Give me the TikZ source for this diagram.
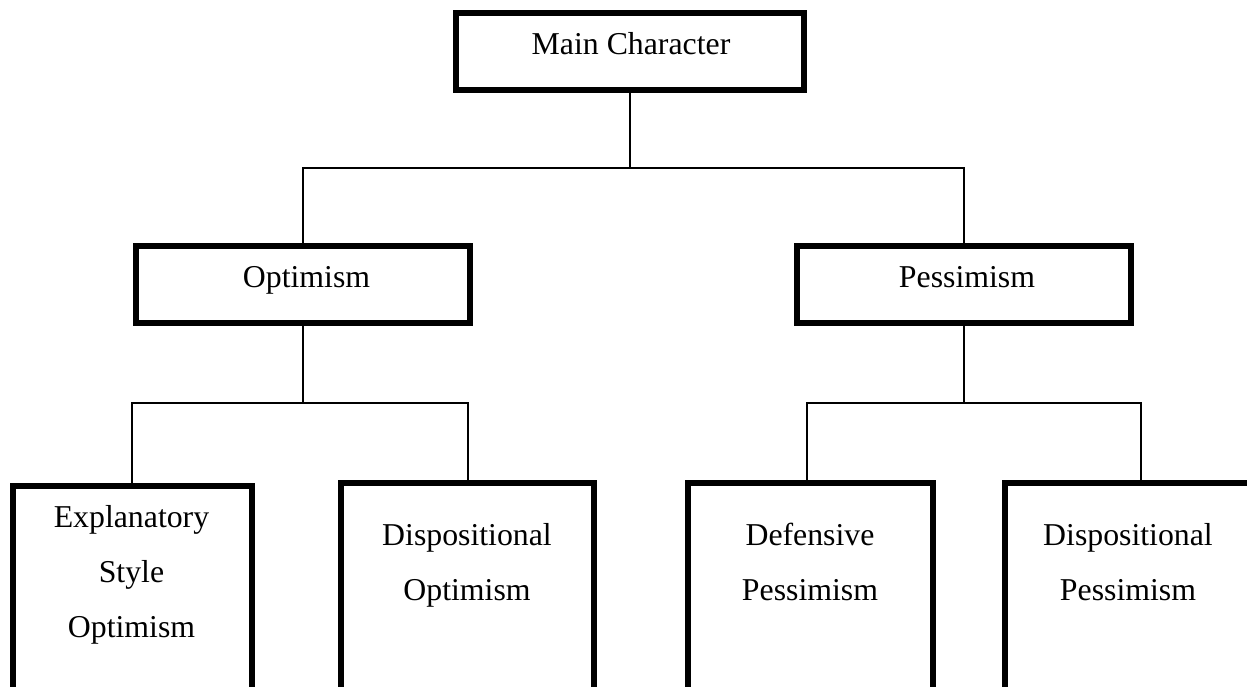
\documentclass[tikz,border=0pt]{standalone}
\usepackage{fontspec}
\setmainfont{Liberation Serif}
\usetikzlibrary{calc}
\begin{document}
\begin{tikzpicture}[x=1pt,y=-1pt,
  box/.style={draw=black,line width=6pt,inner sep=0pt,outer sep=0pt,fill=white},
  lbl/.style={anchor=base,inner sep=0pt,font=\fontsize{31.8}{38}\selectfont},
  conn/.style={draw=black,line width=1.5pt}]
\useasboundingbox (0,0) rectangle (1247,686);
\clip (0,0) rectangle (1247,686);
% boxes (path-centred dimensions)
\node[box,minimum width=348pt,minimum height=77pt] (top) at (630,51.5) {};
\node[box,minimum width=334pt,minimum height=77pt] (opt) at (303,284.5) {};
\node[box,minimum width=334pt,minimum height=77pt] (pes) at (964,284.5) {};
\node[box,minimum width=239pt,minimum height=240pt] (b1) at (132.5,606) {};
\node[box,minimum width=253pt,minimum height=240pt] (b2) at (467.5,603) {};
\node[box,minimum width=245pt,minimum height=240pt] (b3) at (810.5,603) {};
\node[box,minimum width=250pt,minimum height=240pt] (b4) at (1130,603) {};
% labels
\node[lbl] (tTop) at (631,54) {Main Character};
\node[lbl] (tOpt) at (306.5,287) {Optimism};
\node[lbl] (tPes) at (967,287) {Pessimism};
\node[lbl] (t1a) at (131.5,527) {Explanatory};
\node[lbl] (t1b) at (131.5,582) {Style};
\node[lbl] (t1c) at (131.5,637) {Optimism};
\node[lbl] (t2a) at (467,545) {Dispositional};
\node[lbl] (t2b) at (467,600) {Optimism};
\node[lbl] (t3a) at (810,545) {Defensive};
\node[lbl] (t3b) at (810,600) {Pessimism};
\node[lbl] (t4a) at (1128,545) {Dispositional};
\node[lbl] (t4b) at (1128,600) {Pessimism};
% junction coordinates
\coordinate (j0) at (630,168);
\coordinate (jo) at (303,403);
\coordinate (jp) at (964,403);
\coordinate (x1) at (132,403);
\coordinate (x2) at (468,403);
\coordinate (x3) at (807,403);
\coordinate (x4) at (1141,403);
% connectors
\begin{scope}[on background layer/.try]
\draw[conn] (top.south) -- (j0);
\draw[conn] (opt.north) |- (j0);
\draw[conn] (pes.north) |- (j0);
\draw[conn] (opt.south) -- (jo);
\draw[conn] (pes.south) -- (jp);
\draw[conn] (b1.north -| x1) -- (x1) -- (x2) -- (b2.north -| x2);
\draw[conn] (b3.north -| x3) -- (x3) -- (x4) -- (b4.north -| x4);
\end{scope}
\end{tikzpicture}
\end{document}
